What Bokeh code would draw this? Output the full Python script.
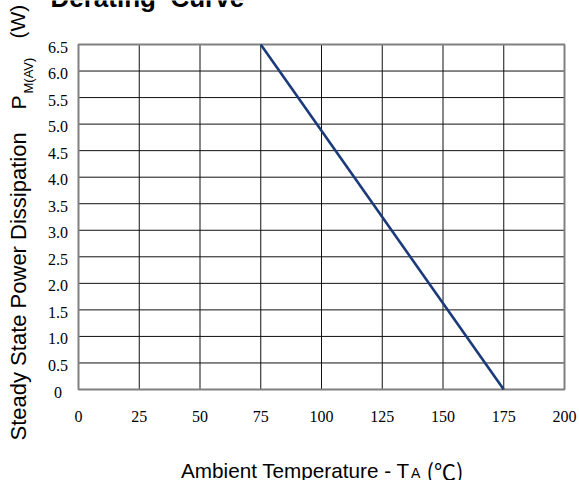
import math
from bokeh.plotting import figure
from bokeh.models import Label, Range1d
from bokeh.embed import file_html
from bokeh.resources import INLINE
from bokeh.core.properties import value

# ---- data ----
temperature = [75, 175]
power = [6.5, 0.0]

x_ticks = [0, 25, 50, 75, 100, 125, 150, 175, 200]
x_tick_labels = ["0", "25", "50", "75", "100", "125", "150", "175", "200"]
y_ticks = [0, 0.5, 1.0, 1.5, 2.0, 2.5, 3.0, 3.5, 4.0, 4.5, 5.0, 5.5, 6.0, 6.5]
y_tick_labels = ["0", "0.5", "1.0", "1.5", "2.0", "2.5", "3.0", "3.5", "4.0",
                 "4.5", "5.0", "5.5", "6.0", "6.5"]

title_text = "Derating\u00a0 Curve"
x_title = "Ambient Temperature - T"
x_title_sub = "A"
x_title_unit = "(\u2103)"
y_title = "Steady State Power Dissipation"
y_title_sym = "P"
y_title_sub = "M(AV)"
y_title_unit = "(W)"

# ---- layout (pixels) ----
W, H = 579, 480
L, R, T, B = 78, 15, 44, 91          # plot-area edges inside the canvas
X0, X1 = min(x_ticks), max(x_ticks)
Y0, Y1 = min(y_ticks), max(y_ticks)
FW = W - L - R
FH = H - T - B
sx = FW / (X1 - X0)                  # px per x unit
sy = FH / (Y1 - Y0)                  # px per y unit
MID = 0.36                           # middle-of-line above baseline (em)


def dx(px):
    return X0 + (px - L) / sx


def dy(py):
    return Y0 + (H - B - py) / sy


p = figure(width=W, height=H,
           x_range=Range1d(dx(0), dx(W)), y_range=Range1d(dy(H), dy(0)),
           x_axis_location=None, y_axis_location=None,
           output_backend="svg", toolbar_location=None)
p.min_border = 0
p.background_fill_color = "white"
p.border_fill_color = "white"
p.outline_line_color = None
p.xgrid.visible = False
p.ygrid.visible = False

serif = "Liberation Serif"
sans = "Liberation Sans"
grid_color = "#111111"

# grid lines (inner ticks only), plot-area border
xi = x_ticks[1:-1]
yi = y_ticks[1:-1]
p.segment(x0=xi, y0=[Y0] * len(xi), x1=xi, y1=[Y1] * len(xi),
          line_color=grid_color, line_width=1)
p.segment(x0=[X0] * len(yi), y0=yi, x1=[X1] * len(yi), y1=yi,
          line_color=grid_color, line_width=1)
p.quad(left=[X0], right=[X1], bottom=[Y0], top=[Y1], fill_color=None,
       line_color="#808080", line_width=2)

# the derating curve
p.line(temperature, power, line_color="#1b3a7a", line_width=2.6)

# tick labels
p.text(x=x_ticks, y=[Y0] * len(x_ticks), text=x_tick_labels,
       text_font=value(serif), text_font_size=value("16px"),
       text_color="black", text_align="center", text_baseline="top",
       y_offset=21)
p.text(x=[X0] * len(y_ticks), y=y_ticks, text=y_tick_labels,
       text_font=value(serif), text_font_size=value("16px"),
       text_color="black", text_align="center", text_baseline="middle",
       x_offset=-20.5, y_offset=2.5)


def hlabel(text, px, base_py, size, font=sans, style="normal"):
    """Horizontal label whose baseline is at page row base_py."""
    p.add_layout(Label(x=dx(px), y=dy(base_py - MID * size), text=text,
                       text_font=font, text_font_size=f"{size}px",
                       text_font_style=style, text_color="black",
                       text_align="left", text_baseline="middle"))


def vlabel(text, base_px, start_py, size, font=sans):
    """Label rotated 90 deg CCW, baseline at page column base_px."""
    p.add_layout(Label(x=dx(base_px - MID * size), y=dy(start_py), text=text,
                       text_font=font, text_font_size=f"{size}px",
                       text_color="black", angle=math.pi / 2,
                       text_align="left", text_baseline="middle"))


# ---- texts ----
hlabel(title_text, 50, 7, 26, style="bold")

hlabel(x_title, 180.5, 477, 20.7)
hlabel(x_title_sub, 410.5, 478, 14)
hlabel(x_title_unit, 426, 477, 22, font="Noto Sans CJK SC")

vlabel(y_title, 26, 440, 22)
vlabel(y_title_sym, 26, 109, 21)
vlabel(y_title_sub, 33, 93, 13)
vlabel(y_title_unit, 25, 38, 21)

open("out.html", "w").write(file_html(p, INLINE))
